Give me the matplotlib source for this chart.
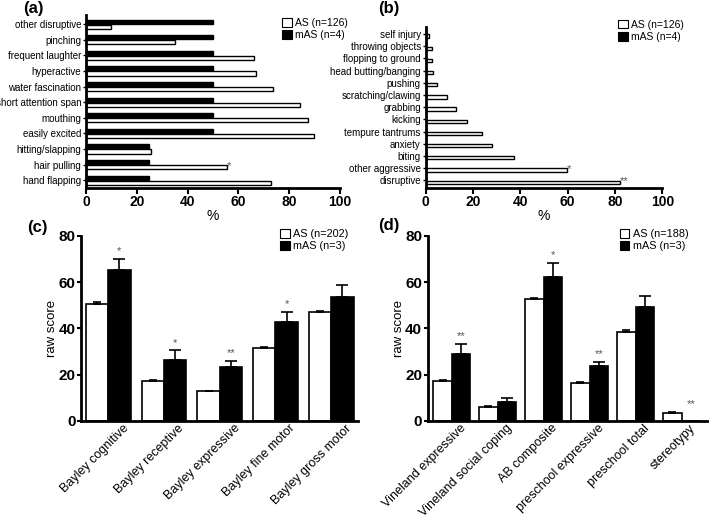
import numpy as np
import matplotlib.pyplot as plt
from matplotlib.patches import Patch

plt.rcParams['font.family'] = ['Liberation Sans', 'DejaVu Sans']

# panel (a): behaviours, listed top to bottom
a_labels = ['other disruptive', 'pinching', 'frequent laughter', 'hyperactive',
            'water fascination', 'short attention span', 'mouthing', 'easily excited',
            'hitting/slapping', 'hair pulling', 'hand flapping']
a_as = [10, 35, 66, 67, 73.5, 84.3, 87.5, 90, 25.5, 55.6, 73]
a_mas = [50, 50, 50, 50, 50, 50, 50, 50, 25, 25, 25]
a_stars = ['', '', '', '', '', '', '', '', '', '*', '']

# panel (b)
b_labels = ['self injury', 'throwing objects', 'flopping to ground', 'head butting/banging',
            'pushing', 'scratching/clawing', 'grabbing', 'kicking', 'tempure tantrums',
            'anxiety', 'biting', 'other aggressive', 'disruptive']
b_as = [1.4, 2.5, 2.5, 3.2, 4.9, 8.9, 12.7, 17.6, 23.9, 27.9, 37.5, 59.7, 82.1]
b_mas = [0] * 13
b_stars = [''] * 11 + ['*', '**']

# panel (c)
c_labels = ['Bayley cognitive', 'Bayley receptive', 'Bayley expressive',
            'Bayley fine motor', 'Bayley gross motor']
c_as = [50.7, 17.4, 12.8, 31.4, 47.3]
c_as_err = [0.7, 0.4, 0.3, 0.5, 0.4]
c_mas = [65.3, 26.2, 23.2, 42.7, 53.7]
c_mas_err = [4.9, 4.3, 2.9, 4.3, 4.9]
c_stars = ['*', '*', '**', '*', '']

# panel (d)
d_labels = ['Vineland expressive', 'Vineland social coping', 'AB composite',
            'preschool expressive', 'preschool total', 'stereotypy']
d_as = [17.5, 6.2, 52.9, 16.3, 38.3, 3.5]
d_as_err = [0.4, 0.3, 0.4, 0.4, 1.1, 0.3]
d_mas = [28.9, 8.1, 62.4, 23.8, 49.4, 0]
d_mas_err = [4.6, 1.9, 5.8, 1.8, 4.5, 0]
d_stars = ['**', '', '*', '**', '', '**']

STAR = '#555555'
fig = plt.figure(figsize=(7.09, 5.2), dpi=100)


def hbar_panel(rect, labels, as_vals, mas_vals, stars, ylim, lab_fs):
    ax = fig.add_axes(rect)
    n = len(labels)
    y = np.arange(n)[::-1]
    h = 0.27
    ax.barh(y + 0.16, mas_vals, height=h, color='black', edgecolor='black', lw=1)
    ax.barh(y - 0.16, as_vals, height=h, color='white', edgecolor='black', lw=1)
    for yy, v, s in zip(y, as_vals, stars):
        if s:
            ax.text(v, yy - 0.1, s, color=STAR, fontsize=8, ha='left', va='center')
    ax.set_yticks(y)
    ax.set_yticklabels(labels, fontsize=lab_fs)
    ax.set_ylim(*ylim)
    ax.set_xlim(0, 100)
    ax.set_xticks([0, 20, 40, 60, 80, 100])
    for t in ax.get_xticklabels():
        t.set_fontweight('bold')
        t.set_fontsize(10)
    ax.set_xlabel('%', fontsize=10, labelpad=0)
    ax.spines[['top', 'right']].set_visible(False)
    ax.spines[['left', 'bottom']].set_linewidth(2)
    ax.tick_params(axis='x', width=1.5, length=4, pad=1)
    ax.tick_params(axis='y', width=1, length=2.5, pad=1)
    return ax


def vbar_panel(rect, labels, as_vals, as_err, mas_vals, mas_err, stars, xlim, lab_shift):
    ax = fig.add_axes(rect)
    n = len(labels)
    x = np.arange(n)
    w = 0.4
    ax.bar(x - 0.2, as_vals, width=w, color='white', edgecolor='black', lw=1.2)
    ax.bar(x + 0.2, mas_vals, width=w, color='black', edgecolor='black', lw=1.2)
    ax.errorbar(x - 0.2, as_vals, yerr=[np.zeros(n), as_err], fmt='none',
                ecolor='black', elinewidth=1.2, capsize=3, capthick=1.2)
    mx = [xi + 0.2 for xi, m in zip(x, mas_vals) if m > 0]
    my = [m for m in mas_vals if m > 0]
    me = [e for e, m in zip(mas_err, mas_vals) if m > 0]
    ax.errorbar(mx, my, yerr=[np.zeros(len(my)), me], fmt='none',
                ecolor='black', elinewidth=1.2, capsize=4, capthick=1.2)
    for xi, a, ae, m, mer, s in zip(x, as_vals, as_err, mas_vals, mas_err, stars):
        if s:
            top = max(a + ae, m + mer)
            ax.text(xi + 0.2, top + 1.2, s, color=STAR, fontsize=8, ha='center', va='bottom')
    # ticks are invisible; shift them so the rotated labels end where the reference's do
    ax.set_xticks(x + lab_shift)
    ax.set_xticklabels(labels, rotation=45, ha='right', rotation_mode='anchor',
                       fontsize=9)
    ax.set_xlim(*xlim)
    ax.set_ylim(0, 80)
    ax.set_yticks([0, 20, 40, 60, 80])
    for t in ax.get_yticklabels():
        t.set_fontweight('bold')
        t.set_fontsize(11)
    ax.set_ylabel('raw score', fontsize=9.5, labelpad=0)
    ax.spines[['top', 'right']].set_visible(False)
    ax.spines[['left', 'bottom']].set_linewidth(2)
    ax.tick_params(axis='x', length=0, pad=1)
    ax.tick_params(axis='y', width=1.5, length=3, pad=1)
    return ax


def add_legend(anchor, n_as, n_mas, fs):
    handles = [Patch(facecolor='white', edgecolor='black', lw=0.8),
               Patch(facecolor='black', edgecolor='black', lw=0.8)]
    fig.legend(handles, [f'AS (n={n_as})', f'mAS (n={n_mas})'], loc='upper left',
               bbox_to_anchor=anchor, bbox_transform=fig.transFigure, frameon=False,
               fontsize=fs, handlelength=0.9, handleheight=0.9, handletextpad=0.3,
               borderpad=0, borderaxespad=0, labelspacing=0.2)


hbar_panel([0.1213, 0.638, 0.358, 0.333], a_labels, a_as, a_mas, a_stars, (-0.51, 10.58), 7)
hbar_panel([0.6004, 0.638, 0.3337, 0.310], b_labels, b_as, b_mas, b_stars, (-0.66, 12.58), 7)
vbar_panel([0.1142, 0.1904, 0.3907, 0.3558], c_labels, c_as, c_as_err, c_mas, c_mas_err,
           c_stars, (-0.49, 4.48), 0.25)
vbar_panel([0.6032, 0.1904, 0.395, 0.3558], d_labels, d_as, d_as_err, d_mas, d_mas_err,
           d_stars, (-0.523, 5.57), 0.17)

add_legend((0.398, 0.965), 126, 4, 7.5)
add_legend((0.872, 0.962), 126, 4, 7.5)
add_legend((0.395, 0.560), 202, 3, 7.8)
add_legend((0.874, 0.560), 188, 3, 7.8)

for txt, x, y in [('(a)', 0.032, 0.999), ('(b)', 0.534, 0.999),
                  ('(c)', 0.038, 0.577), ('(d)', 0.533, 0.581)]:
    fig.text(x, y, txt, fontsize=12, fontweight='bold', ha='left', va='top')

fig.savefig('out.png', dpi=100)
